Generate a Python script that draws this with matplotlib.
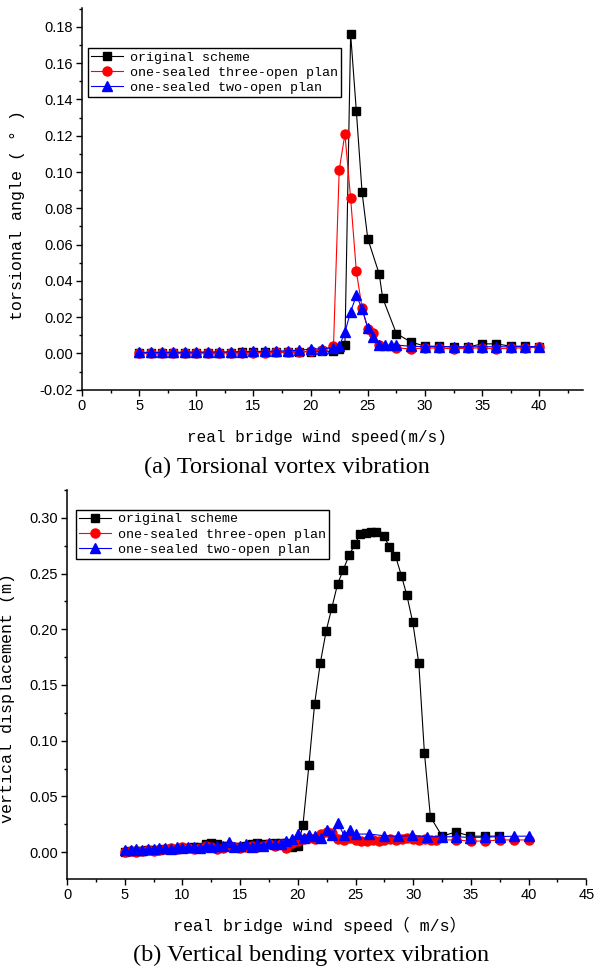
import numpy as np
import matplotlib
matplotlib.use('Agg')
import matplotlib.pyplot as plt
from matplotlib.ticker import MultipleLocator

#####################################################
# data
#####################################################
labels = ['original scheme', 'one-sealed three-open plan', 'one-sealed two-open plan']

# (a) torsional angle
low_a = list(range(5, 23))
ta_black_x = low_a + [22.5, 23, 23.5, 24, 24.5, 25, 26, 26.3, 27.5, 28.75, 30, 31.25, 32.5, 33.75, 35, 36.25, 37.5, 38.75, 40]
ta_black_y = [0.0003, 0.0003, 0.0003, 0.0004, 0.0004, 0.0004, 0.0005, 0.0005, 0.0005, 0.0006, 0.0006, 0.0007,
              0.0007, 0.0008, 0.0009, 0.0010, 0.0011, 0.0013,
              0.0022, 0.0046, 0.176, 0.1335, 0.0888, 0.0632, 0.0438, 0.0306, 0.011, 0.0064, 0.004, 0.004,
              0.0035, 0.0035, 0.0053, 0.0053, 0.004, 0.004, 0.0035]
ta_red_x = low_a + [22.5, 23, 23.5, 24, 24.5, 25, 25.5, 26, 27.5, 28.75, 30, 31.25, 32.5, 33.75, 35, 36.25, 37.5, 38.75, 40]
ta_red_y = [0.0000, 0.0000, 0.0001, 0.0001, 0.0001, 0.0002, 0.0002, 0.0003, 0.0003, 0.0004, 0.0004, 0.0005,
            0.0006, 0.0008, 0.0010, 0.0012, 0.0020, 0.0040,
            0.1011, 0.1209, 0.0855, 0.0452, 0.0251, 0.0136, 0.0114, 0.0044, 0.0031, 0.0025, 0.003, 0.003,
            0.0025, 0.003, 0.003, 0.0025, 0.003, 0.003, 0.0035]
ta_blue_x = low_a + [22.5, 23, 23.5, 24, 24.5, 25, 25.5, 26, 26.5, 27, 27.5, 28.75, 30, 31.25, 32.5, 33.75, 35, 36.25, 37.5, 38.75, 40]
ta_blue_y = [0.0006, 0.0006, 0.0006, 0.0007, 0.0007, 0.0008, 0.0008, 0.0009, 0.0009, 0.0010, 0.0011, 0.0012,
             0.0013, 0.0015, 0.0018, 0.0024, 0.0026, 0.0031,
             0.004, 0.0117, 0.023, 0.032, 0.0246, 0.0141, 0.0092, 0.0049, 0.0046, 0.0046, 0.0046, 0.004,
             0.0037, 0.0037, 0.0037, 0.0037, 0.0037, 0.0037, 0.0037, 0.0037, 0.0037]

# (b) vertical displacement
low_b = [5.0, 5.5, 6.0, 6.5, 7.0, 7.5, 8.0, 8.5, 9.0, 9.5, 10.0, 10.5, 11.0, 11.5, 12.0, 12.5,
         13.0, 13.5, 14.0, 14.5, 15.0, 15.5, 16.0, 16.5, 17.0, 17.5, 18.0, 18.5, 19.0, 19.5, 20.0]
vd_black_x = low_b + [20.44, 20.96, 21.45, 21.94, 22.46, 22.95, 23.44, 23.93, 24.45, 24.97, 25.4, 25.87, 26.35,
                      26.79, 27.45, 27.94, 28.46, 28.98, 29.44, 29.96, 30.48, 30.97, 31.49, 32.5, 33.71, 34.95,
                      36.22, 37.46]
vd_black_y = [0.000, 0.001, 0.001, 0.001, 0.002, 0.002, 0.002, 0.003, 0.003, 0.003, 0.004, 0.004, 0.005, 0.005,
              0.007, 0.008, 0.007, 0.006, 0.006, 0.005, 0.005, 0.006, 0.007, 0.008, 0.007, 0.007, 0.008, 0.008,
              0.008, 0.005, 0.006,
              0.0243, 0.0781, 0.1329, 0.1694, 0.1988, 0.2194, 0.2404, 0.2532, 0.2667, 0.2766, 0.2853, 0.2862,
              0.2871, 0.2871, 0.2832, 0.2742, 0.2658, 0.2479, 0.2308, 0.2063, 0.1697, 0.0892, 0.0317, 0.0144,
              0.0182, 0.0144, 0.0144, 0.0144]
vd_red_x = low_b + [20.5, 21.0, 21.5, 22.0, 22.5, 23.0, 23.5, 24.0, 24.5, 25.0, 25.5, 26.0, 26.5, 27.0, 27.5,
                    28.0, 28.5, 29.0, 29.5, 30.0, 30.5, 31.0, 31.5, 32.0, 33.7, 35.0, 36.2, 37.5, 38.75, 40.0]
vd_red_y = [0.000, 0.001, 0.000, 0.001, 0.002, 0.001, 0.002, 0.003, 0.004, 0.003, 0.005, 0.004, 0.003, 0.004,
            0.006, 0.005, 0.003, 0.004, 0.006, 0.005, 0.004, 0.005, 0.006, 0.005, 0.006, 0.007, 0.006, 0.007,
            0.004, 0.008, 0.010,
            0.012, 0.013, 0.012, 0.016, 0.018, 0.017, 0.012, 0.011, 0.013, 0.011, 0.010, 0.010, 0.011, 0.010,
            0.011, 0.012, 0.011, 0.012, 0.013, 0.012, 0.011, 0.012, 0.011, 0.011, 0.011, 0.010, 0.010, 0.011,
            0.011, 0.011]
vd_blue_x = low_b + [20.5, 21.0, 21.5, 22.0, 22.5, 23.0, 23.5, 24.0, 24.5, 25.0, 26.2, 27.45, 28.7, 29.9, 31.2,
                     32.5, 33.7, 34.95, 36.2, 37.5, 38.75, 40.0]
vd_blue_y = [0.002, 0.002, 0.003, 0.002, 0.003, 0.003, 0.004, 0.004, 0.003, 0.005, 0.004, 0.005, 0.005, 0.004,
             0.006, 0.005, 0.006, 0.006, 0.009, 0.005, 0.006, 0.007, 0.005, 0.007, 0.006, 0.008, 0.007, 0.007,
             0.010, 0.012, 0.016,
             0.013, 0.0154, 0.0148, 0.013, 0.0198, 0.015, 0.0258, 0.015, 0.0198, 0.0163, 0.0163, 0.0148,
             0.0142, 0.015, 0.0139, 0.0139, 0.0139, 0.0132, 0.0135, 0.014, 0.0144, 0.0144]

#####################################################
# styling
#####################################################
plt.rcParams['font.family'] = ['Liberation Sans', 'DejaVu Sans']
mono = ['Liberation Mono', 'Noto Sans CJK SC', 'DejaVu Sans']
styles = [dict(color='black', marker='s', ms=5.5),
          dict(color='red', marker='o', ms=6.5),
          dict(color='blue', marker='^', ms=7)]


def style_axes(ax):
    for side in ['top', 'right']:
        ax.spines[side].set_visible(False)
    for side in ['left', 'bottom']:
        ax.spines[side].set_linewidth(1.1)
    ax.tick_params(which='major', direction='out', length=4.5, width=1.0, labelsize=10.5, pad=2)
    ax.tick_params(which='minor', direction='out', length=2.5, width=1.0)


def draw(ax, series):
    for (x, y), st in zip(series, styles):
        ax.plot(x, y, lw=0.8, color=st['color'], marker=st['marker'], ms=st['ms'],
                mec=st['color'], mfc=st['color'])


def add_legend(ax, anchor):
    leg = ax.legend(labels, loc='upper left', bbox_to_anchor=anchor, prop={'family': mono, 'size': 9.6},
                    fancybox=False, edgecolor='black', framealpha=1, borderpad=0.25, labelspacing=0.22,
                    handlelength=2.4, handletextpad=0.5, borderaxespad=0)
    leg.get_frame().set_linewidth(1.0)


fig = plt.figure(figsize=(5.94, 9.72), dpi=100)

# (a)
ax1 = fig.add_axes([0.138, 0.599, 0.843, 0.393])
draw(ax1, [(ta_black_x, ta_black_y), (ta_red_x, ta_red_y), (ta_blue_x, ta_blue_y)])
style_axes(ax1)
ax1.set_xlim(0, 43.8)
ax1.set_ylim(-0.02, 0.1905)
ax1.xaxis.set_minor_locator(MultipleLocator(2.5))
ax1.yaxis.set_major_locator(MultipleLocator(0.02))
ax1.yaxis.set_minor_locator(MultipleLocator(0.01))
ax1.yaxis.set_major_formatter(matplotlib.ticker.FormatStrFormatter('%.2f'))
ax1.set_xticks(range(0, 41, 5))
ax1.set_xlabel('real bridge wind speed(m/s)', family=mono, fontsize=11.5, va='center')
ax1.xaxis.set_label_coords(0.47, -0.126)
ax1.set_ylabel('torsional angle ( ° )', family=mono, fontsize=12, va='center')
ax1.yaxis.set_label_coords(-0.128, 0.458)
add_legend(ax1, (0.012, 0.895))

# (b)
ax2 = fig.add_axes([0.113, 0.0957, 0.874, 0.4003])
draw(ax2, [(vd_black_x, vd_black_y), (vd_red_x, vd_red_y), (vd_blue_x, vd_blue_y)])
style_axes(ax2)
ax2.set_xlim(0, 45)
ax2.set_ylim(-0.024, 0.325)
ax2.xaxis.set_major_locator(MultipleLocator(5))
ax2.xaxis.set_minor_locator(MultipleLocator(2.5))
ax2.yaxis.set_minor_locator(MultipleLocator(0.025))
ax2.yaxis.set_major_formatter(matplotlib.ticker.FormatStrFormatter('%.2f'))
ax2.set_yticks([0, 0.05, 0.1, 0.15, 0.2, 0.25, 0.3])
ax2.set_xlabel('real bridge wind speed（ m/s）', family=mono, fontsize=12, va='center')
ax2.xaxis.set_label_coords(0.487, -0.118)
ax2.set_ylabel('vertical displacement (m)', family=mono, fontsize=12, va='center')
ax2.yaxis.set_label_coords(-0.114, 0.465)
add_legend(ax2, (0.017, 0.949))

# captions
fig.text(0.483, 0.519, '(a) Torsional vortex vibration', family='Liberation Serif', fontsize=17.5,
         ha='center', va='center')
fig.text(0.524, 0.0175, '(b) Vertical bending vortex vibration', family='Liberation Serif', fontsize=17.5,
         ha='center', va='center')

fig.savefig('out.png', dpi=100)
